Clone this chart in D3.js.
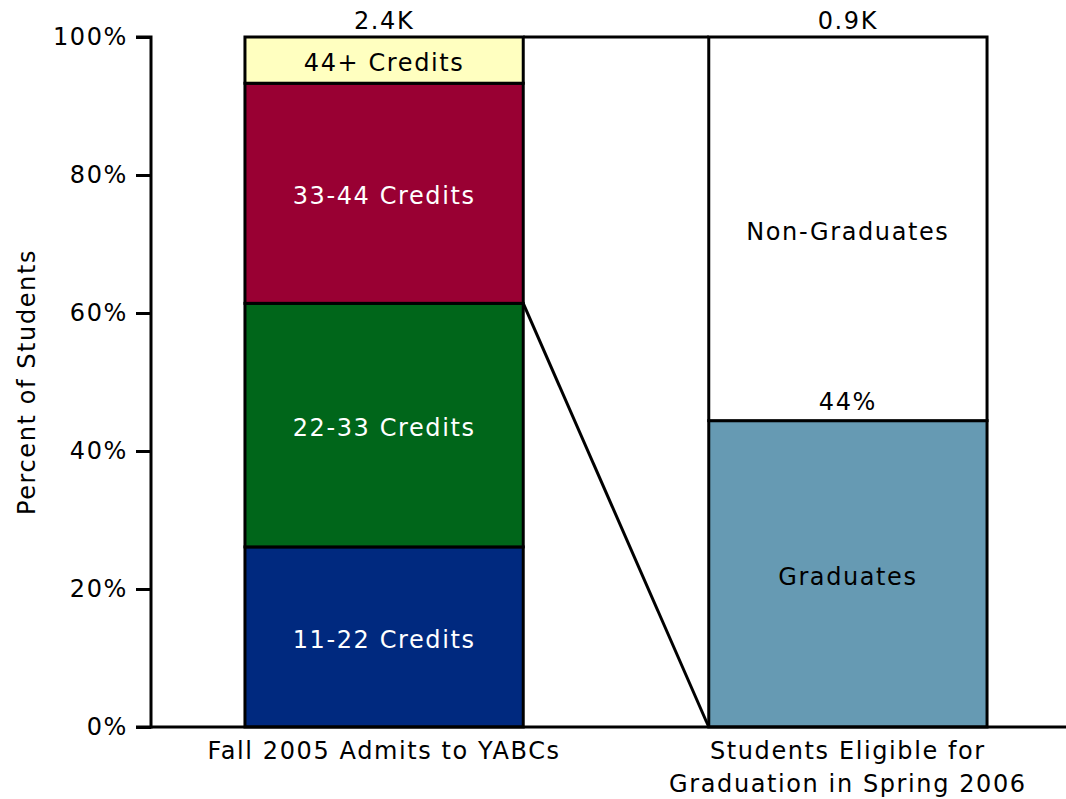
<!DOCTYPE html>
<html>
<head>
<meta charset="utf-8">
<script src="https://cdn.jsdelivr.net/npm/d3@7"></script>
<style>
  html, body { margin: 0; padding: 0; background: #fff; }
  svg { display: block; font-family: "DejaVu Sans", Verdana, sans-serif; }
  text { letter-spacing: 1.6px; }
</style>
</head>
<body>
<svg id="chart" width="1066" height="799"></svg>
<script>
// ---- data ----
const categories = ["Fall 2005 Admits to YABCs", "Students Eligible for\nGraduation in Spring 2006"];
const leftSegments = ["11-22 Credits", "22-33 Credits", "33-44 Credits", "44+ Credits"];
const leftValues = [26.1, 35.3, 31.9, 6.7];
const leftColors = ["#00297f", "#00661a", "#990033", "#ffffc0"];
const leftTextColors = ["#ffffff", "#ffffff", "#ffffff", "#000000"];
const rightSegments = ["Graduates", "Non-Graduates"];
const rightValues = [44.4, 55.6];
const rightColors = ["#669ab3", "#ffffff"];
const totals = ["2.4K", "0.9K"];
const gradLabel = "44%";
const yTicks = [0, 20, 40, 60, 80, 100];
const yTitle = "Percent of Students";

// ---- layout ----
const svg = d3.select("#chart");
const x0 = 151, yTop = 37, yBot = 727;
const x = d3.scaleBand().domain(categories).range([x0, 1081]).paddingInner(0.4).paddingOuter(0.2026);
const y = d3.scaleLinear().domain([0, 100]).range([yBot, yTop]);
const fs = 24;

function stack(vals) {
  let acc = 0;
  return vals.map(v => { const s = acc; acc += v; return [s, acc]; });
}

const leftStack = stack(leftValues);
const rightStack = stack(rightValues);
const c0 = categories[0], c1 = categories[1];

// connector lines
svg.append("line")
  .attr("x1", x(c0) + x.bandwidth()).attr("y1", y(leftStack[1][1]))
  .attr("x2", x(c1)).attr("y2", y(0))
  .attr("stroke", "#000").attr("stroke-width", 3);
svg.append("line")
  .attr("x1", x(c0) + x.bandwidth()).attr("y1", y(100))
  .attr("x2", x(c1)).attr("y2", y(100))
  .attr("stroke", "#000").attr("stroke-width", 3);

// left bar
const gl = svg.append("g");
gl.selectAll("rect").data(leftStack).join("rect")
  .attr("x", x(c0)).attr("width", x.bandwidth())
  .attr("y", d => y(d[1])).attr("height", d => y(d[0]) - y(d[1]))
  .attr("fill", (d, i) => leftColors[i])
  .attr("stroke", "#000").attr("stroke-width", 3);
gl.selectAll("text").data(leftStack).join("text")
  .attr("x", x(c0) + x.bandwidth() / 2)
  .attr("y", d => (y(d[0]) + y(d[1])) / 2)
  .attr("dy", "0.45em")
  .attr("text-anchor", "middle")
  .attr("font-size", fs)
  .attr("fill", (d, i) => leftTextColors[i])
  .text((d, i) => leftSegments[i]);

// right bar
const gr = svg.append("g");
gr.selectAll("rect").data(rightStack).join("rect")
  .attr("x", x(c1)).attr("width", x.bandwidth())
  .attr("y", d => y(d[1])).attr("height", d => y(d[0]) - y(d[1]))
  .attr("fill", (d, i) => rightColors[i])
  .attr("stroke", "#000").attr("stroke-width", 3);
gr.selectAll("text").data(rightStack).join("text")
  .attr("x", x(c1) + x.bandwidth() / 2)
  .attr("y", d => (y(d[0]) + y(d[1])) / 2)
  .attr("dy", "0.45em")
  .attr("text-anchor", "middle")
  .attr("font-size", fs)
  .attr("fill", "#000")
  .text((d, i) => rightSegments[i]);

// value labels
svg.append("text")
  .attr("x", x(c1) + x.bandwidth() / 2).attr("y", y(rightValues[0]) - 11)
  .attr("text-anchor", "middle").attr("font-size", fs).text(gradLabel);
svg.selectAll(".tot").data(categories).join("text")
  .attr("class", "tot")
  .attr("x", d => x(d) + x.bandwidth() / 2).attr("y", y(100) - 8)
  .attr("text-anchor", "middle").attr("font-size", fs)
  .text((d, i) => totals[i]);

// y axis
const yAxis = svg.append("g").attr("transform", `translate(${x0},0)`)
  .call(d3.axisLeft(y).tickValues(yTicks).tickFormat(d => d + "%").tickSize(15).tickPadding(8));
yAxis.select(".domain").attr("stroke-width", 3).attr("d", `M-15,${yTop}H0V${yBot}H-15`);
yAxis.selectAll(".tick line").attr("stroke-width", 3);
yAxis.selectAll(".tick text").attr("font-size", fs).attr("fill", "#000");
yAxis.attr("font-family", null).attr("font-size", null);

// x axis baseline
svg.append("line").attr("x1", x0).attr("x2", 1066).attr("y1", yBot).attr("y2", yBot)
  .attr("stroke", "#000").attr("stroke-width", 3);

// x labels
svg.selectAll(".xl").data(categories).join("text")
  .attr("class", "xl")
  .attr("text-anchor", "middle").attr("font-size", fs)
  .each(function(d) {
    const lines = d.split("\n");
    const t = d3.select(this);
    lines.forEach((ln, i) => {
      t.append("tspan").attr("x", x(d) + x.bandwidth() / 2)
        .attr("y", 759 + i * 33).text(ln);
    });
  });

// y title
svg.append("text")
  .attr("transform", `translate(35,${(yTop + yBot) / 2}) rotate(-90)`)
  .attr("text-anchor", "middle").attr("font-size", fs).text(yTitle);
</script>
</body>
</html>
